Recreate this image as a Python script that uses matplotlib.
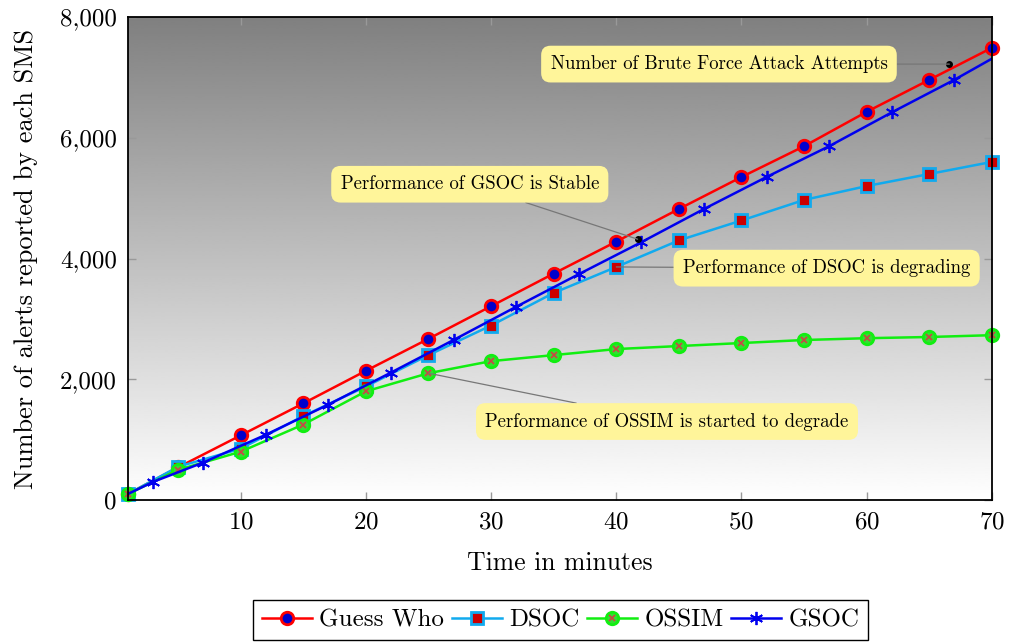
import numpy as np
import matplotlib
matplotlib.use('Agg')
from matplotlib import pyplot as plt
from matplotlib.ticker import FuncFormatter
from matplotlib.legend_handler import HandlerTuple

plt.rcParams['font.family'] = ['cmr10', 'DejaVu Serif']
plt.rcParams['mathtext.fontset'] = 'cm'
plt.rcParams['axes.formatter.use_mathtext'] = True

# data
t = [1, 5, 10, 15, 20, 25, 30, 35, 40, 45, 50, 55, 60, 65, 70]
guess_who = [100, 540, 1070, 1600, 2140, 2670, 3210, 3750, 4280, 4820, 5350, 5860, 6430, 6960, 7490]
dsoc = [100, 550, 850, 1390, 1880, 2400, 2890, 3430, 3860, 4300, 4630, 4970, 5200, 5400, 5600]
ossim = [100, 500, 800, 1250, 1800, 2100, 2300, 2400, 2500, 2550, 2600, 2650, 2680, 2700, 2730]
t_gsoc = [1, 3, 7, 12, 17, 22, 27, 32, 37, 42, 47, 52, 57, 62, 67, 70]
gsoc = [100, 300, 620, 1080, 1580, 2110, 2650, 3200, 3740, 4270, 4820, 5350, 5860, 6420, 6960, 7310]

notes = [
    ("Number of Brute Force Attack Attempts", (66.6, 7220), (48.2, 7220), True),
    ("Performance of GSOC is Stable", (41.7, 4320), (28.3, 5230), True),
    ("Performance of DSOC is degrading", (40, 3860), (56.8, 3840), False),
    ("Performance of OSSIM is started to degrade", (25, 2100), (44.05, 1300), False),
]

fig = plt.figure(figsize=(10.1, 6.44), dpi=100)
ax = fig.add_axes([0.1267, 0.2236, 0.8554, 0.75])

# vertical gray -> white shading of the plot area (gray on top)
grad = np.linspace(0.5, 1.0, 256).reshape(-1, 1)
ax.imshow(grad, cmap='gray', vmin=0, vmax=1, aspect='auto', extent=[0, 1, 0, 1],
          transform=ax.transAxes, zorder=0, interpolation='bilinear')

ax.plot(t, guess_who, color='red', lw=1.8, marker='o', ms=9, mfc='#0000cc', mec='red', mew=2,
        label='Guess Who', zorder=3, clip_on=False)
ax.plot(t, dsoc, color='#11aaee', lw=1.8, marker='s', ms=9, mfc='#cc0000', mec='#11aaee', mew=2,
        label='DSOC', zorder=3, clip_on=False)
l_oss, = ax.plot(t, ossim, color='#11ee11', lw=1.8, marker='o', ms=9, mfc='#33dd33', mec='#11ee11',
                 mew=2, zorder=3, clip_on=False)
l_oss_x, = ax.plot(t, ossim, ls='none', marker='x', ms=4.5, mec='#cc4444', mew=1.2, zorder=3.1,
                   clip_on=False)
l_gsoc, = ax.plot(t_gsoc, gsoc, color='#0000ee', lw=1.8, marker=(6, 2, 0), ms=9.5, mec='#0000ee',
                  mew=1.3, markevery=list(range(1, 15)), zorder=3.2)

for text, xy, xytext, dot in notes:
    if dot:
        ax.plot(*xy, 'o', color='black', ms=4, zorder=4)
    ax.annotate(text, xy=xy, xytext=xytext, ha='center', va='center', fontsize=13.5, zorder=5,
                bbox=dict(boxstyle='round,pad=0.5', fc='#fff59a', ec='none'),
                arrowprops=dict(arrowstyle='-', color='#777777', lw=0.9, shrinkA=0, shrinkB=0))

ax.set_xlim(1, 70)
ax.set_ylim(0, 8000)
ax.set_xticks([10, 20, 30, 40, 50, 60, 70])
ax.set_yticks([0, 2000, 4000, 6000, 8000])
ax.yaxis.set_major_formatter(FuncFormatter(lambda v, p: '{:,.0f}'.format(v)))
ax.tick_params(direction='in', length=6, width=1, color='#999999', labelsize=18,
               top=True, right=True, pad=8)
for s in ax.spines.values():
    s.set_linewidth(1.3)
    s.set_color('black')
    s.set_zorder(6)

ax.set_xlabel('Time in minutes', fontsize=18.5, labelpad=13)
ax.set_ylabel('Number of alerts reported by each SMS', fontsize=19, labelpad=16)

handles, labels = ax.get_legend_handles_labels()
handles = [handles[0], handles[1], (l_oss, l_oss_x), l_gsoc]
labels = ['Guess Who', 'DSOC', 'OSSIM', 'GSOC']
fig.legend(handles, labels, loc='center', bbox_to_anchor=(0.555, 0.037), ncol=4, fontsize=18,
           frameon=True, fancybox=False, edgecolor='black', framealpha=1, handlelength=2.0,
           handletextpad=0.3, columnspacing=0.3, borderpad=0.35,
           handler_map={tuple: HandlerTuple(ndivide=1)})

fig.savefig('out.png', dpi=100)
